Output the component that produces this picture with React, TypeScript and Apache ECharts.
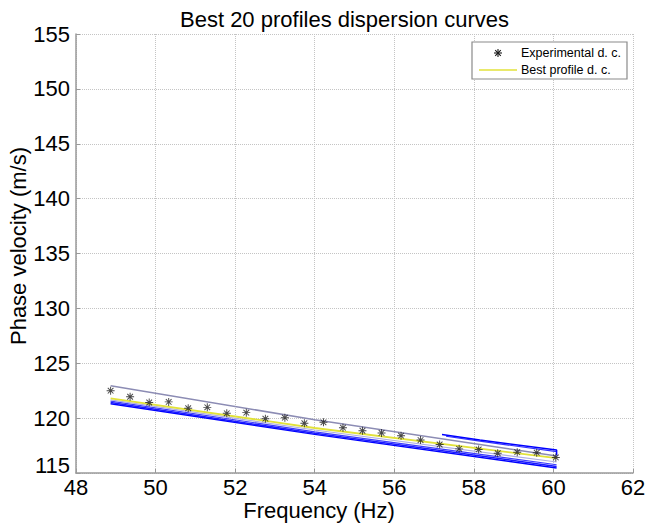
import React, { useEffect, useRef } from "react";
import * as echarts from "echarts";

const xTicks = [48, 50, 52, 54, 56, 58, 60, 62];
const yTicks = [115, 120, 125, 130, 135, 140, 145, 150, 155];

const expFreq = [48.87, 49.36, 49.84, 50.33, 50.82, 51.30, 51.79, 52.28, 52.76, 53.25, 53.74, 54.22,
  54.71, 55.20, 55.68, 56.17, 56.66, 57.14, 57.63, 58.12, 58.60, 59.09, 59.58, 60.06];
const expVel = [122.50, 121.95, 121.42, 121.48, 120.90, 120.98, 120.44, 120.50, 119.95, 120.04, 119.53, 119.62,
  119.13, 118.85, 118.65, 118.40, 118.00, 117.60, 117.20, 117.15, 116.80, 116.90, 116.85, 116.42];

const bestProfile = [[48.87, 121.8], [54.0, 119.1], [60.08, 116.35]];
const grayProfile = [[48.87, 122.95], [54.0, 119.85], [60.08, 116.55]];
const lavenderProfile = [[48.87, 121.66], [54.0, 118.92], [60.08, 116.0]];
const blueProfileA = [[48.87, 121.55], [54.0, 118.75], [60.08, 115.75]];
const blueProfileB = [[48.87, 121.42], [54.0, 118.62], [60.08, 115.6]];
const blueProfileC = [[48.87, 121.32], [54.0, 118.52], [60.08, 115.45]];
const blueUpperA = [[57.2, 118.5], [58.15, 118.0], [60.08, 117.1], [60.08, 116.6]];
const blueUpperB = [[57.3, 118.35], [58.15, 117.9], [60.08, 116.95]];

const ASTERISK =
  "path://M-0.6,-5L0.6,-5L0.6,5L-0.6,5Z M-5,-0.6L5,-0.6L5,0.6L-5,0.6Z M-3.12,-3.96L3.96,3.12L3.12,3.96L-3.96,-3.12Z M3.12,-3.96L3.96,-3.12L-3.12,3.96L-3.96,3.12Z";

const FONT = "'Liberation Sans', Arial, sans-serif";

function profileLine(name: string, data: number[][], color: string, width: number) {
  return {
    name,
    type: "line",
    data,
    showSymbol: false,
    symbol: "none",
    silent: true,
    lineStyle: { color, width },
    z: 2,
  };
}

export default function App() {
  const ref = useRef<HTMLDivElement>(null);
  useEffect(() => {
    if (!ref.current) return;
    const chart = echarts.init(ref.current, null, { renderer: "svg" });
    const cx = 498, cy = 53, r = 4;
    chart.setOption({
      animation: false,
      backgroundColor: "#ffffff",
      title: {
        text: "Best 20 profiles dispersion curves",
        left: 180,
        top: 8,
        padding: 0,
        textStyle: { fontFamily: FONT, fontSize: 22, fontWeight: "normal", color: "#000" },
      },
      grid: { left: 76, right: 21, top: 34, bottom: 52 },
      xAxis: {
        type: "value",
        min: 48,
        max: 62,
        interval: 2,
        axisLine: { show: true, onZero: false, lineStyle: { color: "#9a9a9a", width: 1.5 } },
        axisTick: { show: true, inside: true, length: 4, lineStyle: { color: "#9a9a9a" } },
        axisLabel: { margin: 3, fontFamily: FONT, fontSize: 22, color: "#000", customValues: xTicks } as any,
        splitLine: { show: true, lineStyle: { color: "#c4c4c4", type: "dotted", width: 1 } },
      },
      yAxis: {
        type: "value",
        min: 115,
        max: 155,
        interval: 5,
        axisLine: { show: true, onZero: false, lineStyle: { color: "#9a9a9a", width: 1.5 } },
        axisTick: { show: true, inside: true, length: 4, lineStyle: { color: "#9a9a9a" } },
        axisLabel: {
          margin: 6,
          fontFamily: FONT,
          fontSize: 22,
          color: "#000",
          customValues: yTicks,
          formatter: (v: number) => (v === 115 ? "{low|" + v + "}" : String(v)),
          rich: { low: { fontFamily: FONT, fontSize: 22, color: "#000", padding: [0, 0, 16, 0] } },
        } as any,
        splitLine: { show: true, lineStyle: { color: "#c4c4c4", type: "dotted", width: 1 } },
      },
      series: [
        profileLine("p1", blueProfileC, "#0000ff", 1.5),
        profileLine("p2", blueProfileB, "#1a1aff", 1.5),
        profileLine("p3", blueProfileA, "#3c3cff", 1.2),
        profileLine("p4", lavenderProfile, "#b0b0e0", 1.2),
        profileLine("p5", blueUpperB, "#3333ff", 1.2),
        profileLine("p6", blueUpperA, "#0000ff", 1.5),
        profileLine("p7", grayProfile, "#8c8cb4", 1.6),
        {
          ...profileLine("Best profile d. c.", bestProfile, "#e2e23a", 1.8),
          z: 3,
        },
        {
          name: "Experimental d. c.",
          type: "scatter",
          data: expFreq.map((f, i) => [f, expVel[i]]),
          symbol: ASTERISK,
          symbolSize: 8,
          itemStyle: { color: "#1a1a1a" },
          z: 4,
        },
      ],
      graphic: [
        {
          type: "rect",
          shape: { x: 472, y: 42, width: 155, height: 37 },
          style: { fill: "#ffffff", stroke: "#8a8a8a", lineWidth: 1.2 },
          z: 10,
        },
        { type: "line", shape: { x1: cx - r, y1: cy, x2: cx + r, y2: cy }, style: { stroke: "#1a1a1a", lineWidth: 1.1 }, z: 11 },
        { type: "line", shape: { x1: cx, y1: cy - r, x2: cx, y2: cy + r }, style: { stroke: "#1a1a1a", lineWidth: 1.1 }, z: 11 },
        { type: "line", shape: { x1: cx - 2.8, y1: cy - 2.8, x2: cx + 2.8, y2: cy + 2.8 }, style: { stroke: "#1a1a1a", lineWidth: 1.1 }, z: 11 },
        { type: "line", shape: { x1: cx - 2.8, y1: cy + 2.8, x2: cx + 2.8, y2: cy - 2.8 }, style: { stroke: "#1a1a1a", lineWidth: 1.1 }, z: 11 },
        { type: "line", shape: { x1: 479, y1: 70, x2: 517, y2: 70 }, style: { stroke: "#e2e23a", lineWidth: 1.5 }, z: 11 },
        {
          type: "text",
          x: 521,
          y: 53,
          style: { text: "Experimental d. c.", fontFamily: FONT, fontSize: 12.5, fill: "#000", textVerticalAlign: "middle" },
          z: 11,
        },
        {
          type: "text",
          x: 521,
          y: 70,
          style: { text: "Best profile d. c.", fontFamily: FONT, fontSize: 12.5, fill: "#000", textVerticalAlign: "middle" },
          z: 11,
        },
        {
          type: "text",
          x: 319,
          y: 510,
          style: { text: "Frequency (Hz)", fontFamily: FONT, fontSize: 22, fill: "#000", textAlign: "center", textVerticalAlign: "middle" },
        },
        {
          type: "text",
          x: 18,
          y: 246,
          rotation: Math.PI / 2,
          style: { text: "Phase velocity (m/s)", fontFamily: FONT, fontSize: 22, fill: "#000", textAlign: "center", textVerticalAlign: "middle" },
        },
      ],
    });
    return () => chart.dispose();
  }, []);
  return <div ref={ref} style={{ position: "fixed", left: 0, top: 0, width: 654, height: 525 }} />;
}
